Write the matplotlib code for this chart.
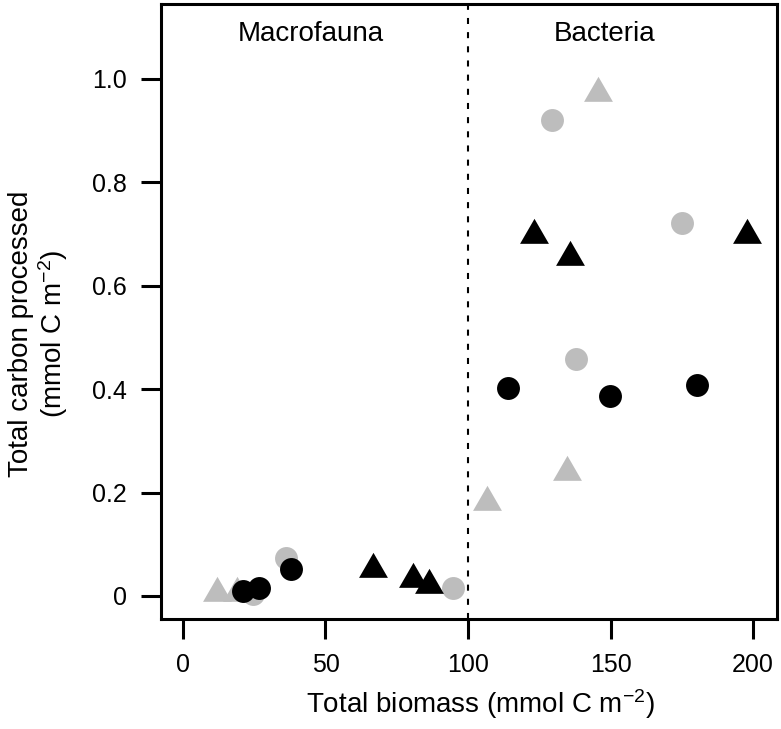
import matplotlib.pyplot as plt

plt.rcParams['font.family'] = ['Liberation Sans', 'DejaVu Sans']
plt.rcParams['mathtext.fontset'] = 'custom'
plt.rcParams['mathtext.rm'] = 'Liberation Sans'
plt.rcParams['mathtext.it'] = 'Liberation Sans:italic'
plt.rcParams['mathtext.bf'] = 'Liberation Sans:bold'

# grey circles
gc_x = [24.5, 36.1, 94.6, 129.4, 137.9, 175.2]
gc_y = [0.003, 0.073, 0.015, 0.921, 0.458, 0.721]
# grey triangles
gt_x = [11.8, 19.0, 106.6, 134.9, 145.7]
gt_y = [0.005, 0.005, 0.182, 0.240, 0.972]
# black circles
bc_x = [20.9, 26.8, 37.8, 114.2, 149.8, 180.2]
bc_y = [0.010, 0.016, 0.052, 0.402, 0.386, 0.408]
# black triangles
bt_x = [66.8, 80.8, 86.4, 123.2, 135.8, 197.8]
bt_y = [0.053, 0.032, 0.022, 0.698, 0.656, 0.698]

xticks = [0, 50, 100, 150, 200]
yticks = [0, 0.2, 0.4, 0.6, 0.8, 1.0]
ylabels = ['0', '0.2', '0.4', '0.6', '0.8', '1.0']

grey = '#bdbdbd'
# R style triangle, centred on its centroid
tri = [(0, 1), (-0.866, -0.5), (0.866, -0.5)]

fig = plt.figure(figsize=(7.81, 7.29), dpi=100)
ax = fig.add_axes([161/781, 110/729, 616/781, 615/729])

ax.axvline(100, color='black', lw=1.5, linestyle=(0, (2.9, 3.9)), zorder=1)

ax.plot(gc_x, gc_y, 'o', color=grey, ms=16.5, mew=0, zorder=2)
ax.plot(gt_x, gt_y, marker=tri, ls='none', color=grey, ms=24, mew=0, zorder=2)
ax.plot(bc_x, bc_y, 'o', color='black', ms=16.5, mew=0, zorder=3)
ax.plot(bt_x, bt_y, marker=tri, ls='none', color='black', ms=24, mew=0, zorder=3)

ax.text(45, 1.087, 'Macrofauna', fontsize=20, ha='center', va='center')
ax.text(148, 1.087, 'Bacteria', fontsize=20, ha='center', va='center')

ax.set_xlim(-7.7, 208.4)
ax.set_ylim(-0.0445, 1.145)
ax.set_xticks(xticks)
ax.set_xticklabels([str(t) for t in xticks])
ax.set_yticks(yticks)
ax.set_yticklabels(ylabels)

for s in ax.spines.values():
    s.set_linewidth(2.2)
ax.tick_params(axis='both', length=14.5, width=2.2, labelsize=18, direction='out')
ax.tick_params(axis='x', pad=10)
ax.tick_params(axis='y', pad=10)

fig.text(480/781, 1 - 704/729, 'Total biomass (mmol C m$^{\\mathregular{-2}}$)',
         fontsize=20, ha='center', va='center')
fig.text(39/781, 1 - 334/729, 'Total carbon processed\n(mmol C m$^{\\mathregular{-2}}$)',
         fontsize=20, ha='center', va='center', rotation=90,
         multialignment='center', linespacing=1.05)

plt.savefig('out.png', dpi=100)
